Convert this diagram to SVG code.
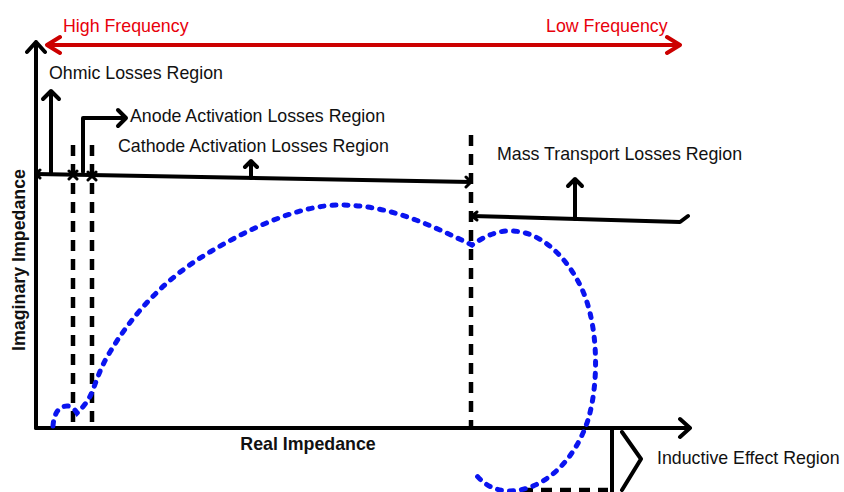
<svg xmlns="http://www.w3.org/2000/svg" width="844" height="492" viewBox="0 0 844 492">
<style>
.t{font-family:"Liberation Sans",Arial,sans-serif;font-size:17.8px;fill:#111}
.red{fill:#E8000B}
.b{font-weight:bold;font-size:17.8px}
.ln{fill:none;stroke:#000;stroke-width:4;stroke-linecap:round;stroke-linejoin:round}
.thin{fill:none;stroke:#000;stroke-width:3;stroke-linecap:round;stroke-linejoin:round}
.dash{fill:none;stroke:#000;stroke-width:4.5;stroke-dasharray:11 8}
.rd{fill:none;stroke:#CC0000;stroke-width:4;stroke-linecap:round;stroke-linejoin:round}
.blue{fill:none;stroke:#0A14F0;stroke-width:5;stroke-linecap:round;stroke-dasharray:4 8}
</style>
<rect width="844" height="492" fill="#fff"/>
<g id="connectors">
  <path class="rd" d="M47,45 H680 M60,37 L47,45 L60,53 M667,37 L680,45 L667,53"/>
  <path class="ln" d="M36,428 V42 M27,52 L36,42 L45,52"/>
  <path class="ln" d="M36,428 H690 M680,419 L690,428 L680,437"/>
  <path class="dash" d="M73,145 V428 M92,145 V428 M471,135 V428"/>
  <path class="ln" d="M36,174 L471,182"/>
  <path class="thin" d="M40,170 L36,174 L40,178 M69,171 L73,175 L69,179 M77,171 L73,175 L77,179 M88,172 L92,176 L88,180 M96,172 L92,176 L96,180 M466,177 L471,182 L466,187"/>
  <path class="ln" d="M51,174 V91 M43,99 L51,91 L59,99"/>
  <path class="ln" d="M83,172 V118 H126 M118,110 L126,118 L118,126"/>
  <path class="ln" d="M251,178 V161 M245,167 L251,161 L257,167"/>
  <path class="ln" d="M472,216 L680,222 L688,216"/>
  <path class="thin" d="M477,212 L472,216 L477,220"/>
  <path class="ln" d="M575,219 V179 M568,186 L575,179 L582,186"/>
  <path class="ln" d="M612,428 V492"/>
  <path class="ln" d="M622,432 L641,459 L622,490"/>
  <path class="dash" d="M522,490 H608"/>
  <path class="blue" d="M53,426 C54,412 60,406 67,406 C72,406 75,410 77,413 C82,408 88,402 92,392 C97,380 100,368 110,352 C135,310 170,275 210,252 C250,228 300,205 340,205 C390,205 430,225 472,245 C485,236 498,230 513,231 C540,232 565,255 580,285 C598,320 600,380 588,420 C575,460 545,490 510,491 C495,491 485,485 477,476"/>
</g>
<g id="high-frequency"><text class="t red" x="63" y="32">High Frequency</text></g>
<g id="low-frequency"><text class="t red" x="546" y="32">Low Frequency</text></g>
<g id="ohmic"><text class="t" x="49" y="79">Ohmic Losses Region</text></g>
<g id="anode"><text class="t" x="130" y="122">Anode Activation Losses Region</text></g>
<g id="cathode"><text class="t" x="118" y="152">Cathode Activation Losses Region</text></g>
<g id="mass"><text class="t" x="497" y="160">Mass Transport Losses Region</text></g>
<g id="inductive"><text class="t" x="657" y="464">Inductive Effect Region</text></g>
<g id="x-label"><text class="t b" x="308" y="450" text-anchor="middle">Real Impedance</text></g>
<g id="y-label"><text class="t b" transform="translate(25,260) rotate(-90)" text-anchor="middle">Imaginary Impedance</text></g>
</svg>
